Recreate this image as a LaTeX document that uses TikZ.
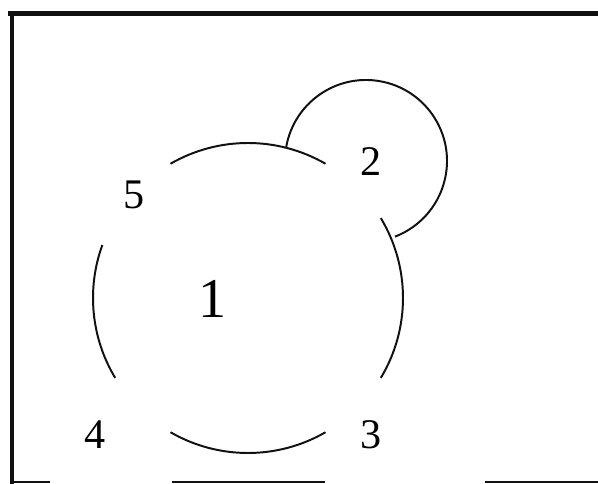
\documentclass[tikz,border=0pt]{standalone}
\usepackage{fontspec}
\setmainfont{Liberation Serif}
\usepackage{tikz}
\usetikzlibrary{positioning}
\definecolor{ink}{HTML}{111111}

\begin{document}
\begin{tikzpicture}[scale=1,
    rim/.style={ink,line width=3.2pt},
    rimthin/.style={ink,line width=1.4pt},
    ring/.style={ink,line width=1.4pt},
    tag/.style={inner sep=0pt,font=\fontsize{30}{30}\selectfont},
    bigtag/.style={inner sep=0pt,font=\fontsize{40}{40}\selectfont}]
  \useasboundingbox (0,0) rectangle (14.95,12.1);
  % frame: heavy top and left, broken bottom
  \draw[rim] (0.2,11.765) -- (14.95,11.765);
  \draw[rim] (0.3,11.765) -- (0.3,0);
  \draw[rimthin] (0.3,0.05) -- (1.25,0.05);
  \draw[rimthin] (4.3,0.05) -- (8.125,0.05);
  \draw[rimthin] (12.125,0.05) -- (14.95,0.05);
  % the big ring, broken at the corners
  \coordinate (c1) at (6.2,4.65);
  \draw[ring] (c1) ++(60:3.875) arc[start angle=60, end angle=120, radius=3.875];
  \draw[ring] (c1) ++(160:3.875) arc[start angle=160, end angle=211, radius=3.875];
  \draw[ring] (c1) ++(240:3.875) arc[start angle=240, end angle=300, radius=3.875];
  \draw[ring] (c1) ++(-31:3.875) arc[start angle=-31, end angle=31, radius=3.875];
  % the small ring sitting on its upper right
  \coordinate (c2) at (9.15,8.075);
  \draw[ring] (c2) ++(170:2.025) arc[start angle=170, end angle=-69, radius=2.025];
  \node[bigtag] (one) at (5.31,4.625) {1};
  \node[tag] (two) at (9.275,8.05) {2};
  \node[tag] (three) at (9.275,1.225) {3};
  \node[tag] (four) at (2.375,1.225) {4};
  \node[tag] (five) at (3.34,7.225) {5};
\end{tikzpicture}
\end{document}
